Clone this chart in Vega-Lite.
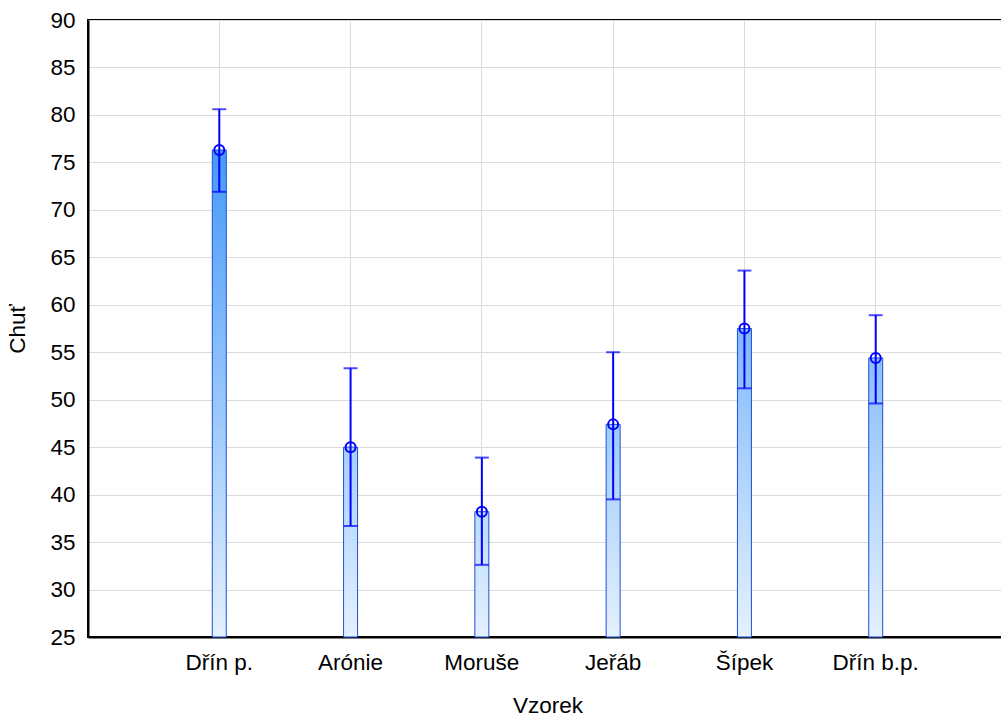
{
  "$schema": "https://vega.github.io/schema/vega-lite/v6.json",
  "width": 919,
  "height": 617,
  "autosize": {"type": "none"},
  "padding": {"left": 88, "top": 20, "right": 0, "bottom": 83},
  "background": "white",
  "config": {
    "font": "Liberation Sans",
    "view": {"stroke": "black", "strokeWidth": 2},
    "axis": {
      "labelFont": "Liberation Sans",
      "titleFont": "Liberation Sans",
      "labelFontSize": 22.5,
      "titleFontSize": 22.5,
      "titleFontWeight": "normal",
      "labelColor": "black",
      "titleColor": "black",
      "domainColor": "black",
      "domainWidth": 2,
      "gridColor": "#dcdcdc",
      "gridWidth": 1,
      "ticks": false
    }
  },
  "data": {
    "values": [
      {"Vzorek": "Dřín p.", "mean": 76.3, "lo": 71.9, "hi": 80.6},
      {"Vzorek": "Arónie", "mean": 45.0, "lo": 36.7, "hi": 53.3},
      {"Vzorek": "Moruše", "mean": 38.2, "lo": 32.6, "hi": 43.9},
      {"Vzorek": "Jeřáb", "mean": 47.4, "lo": 39.5, "hi": 55.0},
      {"Vzorek": "Šípek", "mean": 57.5, "lo": 51.2, "hi": 63.6},
      {"Vzorek": "Dřín b.p.", "mean": 54.4, "lo": 49.6, "hi": 58.9}
    ]
  },
  "encoding": {
    "x": {
      "field": "Vzorek",
      "type": "nominal",
      "sort": null,
      "scale": {"paddingInner": 0, "paddingOuter": 0.5},
      "axis": {"title": "Vzorek", "labelAngle": 0, "labelPadding": 14, "titlePadding": 21, "grid": true, "bandPosition": 0.5}
    }
  },
  "layer": [
    {
      "mark": {"type": "bar", "size": 14, "stroke": "#1f4fd8", "strokeWidth": 1},
      "encoding": {
        "y": {
          "field": "mean",
          "type": "quantitative",
          "scale": {"domain": [25, 90], "zero": false, "nice": false},
          "axis": {"title": "Chuť", "values": [25, 30, 35, 40, 45, 50, 55, 60, 65, 70, 75, 80, 85, 90], "labelPadding": 13, "titlePadding": 20, "grid": true}
        },
        "y2": {"datum": 25},
        "fill": {
          "condition": [
            {"test": "datum.Vzorek === 'Dřín p.'", "value": {"gradient": "linear", "x1": 0, "x2": 0, "y1": -0.072, "y2": 1, "stops": [{"offset": 0, "color": "#3a93f7"}, {"offset": 1, "color": "#e4f1ff"}]}},
            {"test": "datum.Vzorek === 'Arónie'", "value": {"gradient": "linear", "x1": 0, "x2": 0, "y1": -1.75, "y2": 1, "stops": [{"offset": 0, "color": "#3a93f7"}, {"offset": 1, "color": "#e4f1ff"}]}},
            {"test": "datum.Vzorek === 'Moruše'", "value": {"gradient": "linear", "x1": 0, "x2": 0, "y1": -3.167, "y2": 1, "stops": [{"offset": 0, "color": "#3a93f7"}, {"offset": 1, "color": "#e4f1ff"}]}},
            {"test": "datum.Vzorek === 'Jeřáb'", "value": {"gradient": "linear", "x1": 0, "x2": 0, "y1": -1.455, "y2": 1, "stops": [{"offset": 0, "color": "#3a93f7"}, {"offset": 1, "color": "#e4f1ff"}]}},
            {"test": "datum.Vzorek === 'Šípek'", "value": {"gradient": "linear", "x1": 0, "x2": 0, "y1": -0.692, "y2": 1, "stops": [{"offset": 0, "color": "#3a93f7"}, {"offset": 1, "color": "#e4f1ff"}]}}
          ],
          "value": {"gradient": "linear", "x1": 0, "x2": 0, "y1": -0.877, "y2": 1, "stops": [{"offset": 0, "color": "#3a93f7"}, {"offset": 1, "color": "#e4f1ff"}]}
        }
      }
    },
    {
      "mark": {"type": "rule", "color": "#0000ff", "strokeWidth": 2},
      "encoding": {
        "y": {"field": "hi", "type": "quantitative"},
        "y2": {"field": "lo"}
      }
    },
    {
      "mark": {"type": "tick", "color": "#0000ff", "size": 14, "thickness": 2, "orient": "horizontal"},
      "encoding": {
        "y": {"field": "hi", "type": "quantitative"}
      }
    },
    {
      "mark": {"type": "tick", "color": "#0000ff", "size": 14, "thickness": 2, "orient": "horizontal"},
      "encoding": {
        "y": {"field": "lo", "type": "quantitative"}
      }
    },
    {
      "mark": {"type": "point", "filled": false, "color": "#0000ff", "strokeWidth": 2, "size": 100, "opacity": 1},
      "encoding": {
        "y": {"field": "mean", "type": "quantitative"}
      }
    }
  ]
}
